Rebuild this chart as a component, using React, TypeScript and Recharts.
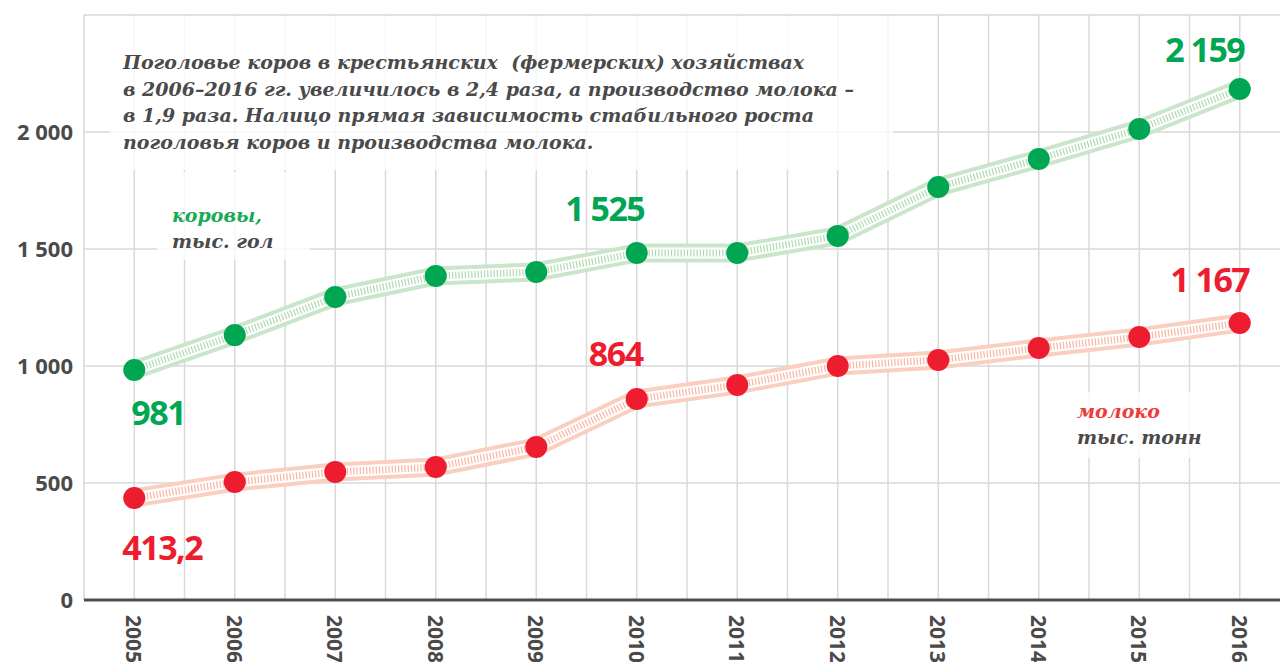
import React from 'react';
import { LineChart, Line, XAxis, YAxis, CartesianGrid, LabelList } from 'recharts';

const years = [2005, 2006, 2007, 2008, 2009, 2010, 2011, 2012, 2013, 2014, 2015, 2016];
const cows = [983, 1132, 1295, 1385, 1402, 1483, 1483, 1556, 1765, 1885, 2013, 2184];
const milk = [436, 504, 547, 568, 654, 859, 919, 1000, 1026, 1077, 1124, 1184];
const cowLabels = ['981', '', '', '', '', '1 525', '', '', '', '', '', '2 159'];
const milkLabels = ['413,2', '', '', '', '', '864', '', '', '', '', '', '1 167'];
const yTicks = [0, 500, 1000, 1500, 2000, 2500];
const yTickLabels = ['0', '500', '1 000', '1 500', '2 000', ''];
const xGridTicks = [2004.5, 2005, 2005.5, 2006, 2006.5, 2007, 2007.5, 2008, 2008.5, 2009, 2009.5, 2010, 2010.5, 2011, 2011.5, 2012, 2012.5, 2013, 2013.5, 2014, 2014.5, 2015, 2015.5, 2016, 2016.5];
const noteLines = [
  'Поголовье коров в крестьянских  (фермерских) хозяйствах',
  'в 2006–2016 гг. увеличилось в 2,4 раза, а производство молока –',
  'в 1,9 раза. Налицо прямая зависимость стабильного роста',
  'поголовья коров и производства молока.',
];
const cowsLegend = ['коровы,', 'тыс. гол'];
const milkLegend = ['молоко', 'тыс. тонн'];

const data = years.map((year, i) => ({
  year,
  cows: cows[i],
  milk: milk[i],
  cowLabel: cowLabels[i],
  milkLabel: milkLabels[i],
}));

const GREEN = '#00a651';
const RED = '#ed1c2e';
const GREEN_BAND = '#c9e6ca';
const GREEN_HATCH = '#b3dbb6';
const RED_BAND = '#fbcfc0';
const RED_HATCH = '#f8b9a6';
const GRAY = '#4a4a4a';

const cowOffsets: Record<number, { dx: number; dy: number }> = {
  0: { dx: 24, dy: 55 },
  5: { dx: -32, dy: -32 },
  11: { dx: -35, dy: -27 },
};
const milkOffsets: Record<number, { dx: number; dy: number }> = {
  0: { dx: 28, dy: 62 },
  5: { dx: -21, dy: -33 },
  11: { dx: -30, dy: -31 },
};

const makeLabel = (offsets: Record<number, { dx: number; dy: number }>, color: string) => (props: any) => {
  const { x, y, value, index } = props;
  if (!value) return null;
  const o = offsets[index] || { dx: 0, dy: -20 };
  return (
    <text
      x={Number(x) + o.dx}
      y={Number(y) + o.dy}
      textAnchor="middle"
      fill={color}
      fontFamily="'Open Sans', sans-serif"
      fontWeight={700}
      fontSize={34}
      letterSpacing={-1.5}
    >
      {value}
    </text>
  );
};

const XTick = (props: any) => {
  const { x, y, payload } = props;
  if (!Number.isInteger(payload.value)) return null;
  return (
    <text
      x={0}
      y={0}
      transform={`translate(${x - 8}, ${y + 7}) rotate(90)`}
      textAnchor="start"
      fill={GRAY}
      fontFamily="'Open Sans', sans-serif"
      fontWeight={700}
      fontSize={21}
    >
      {payload.value}
    </text>
  );
};

const YTick = (props: any) => {
  const { y, payload, index } = props;
  const label = yTickLabels[yTicks.indexOf(payload.value)] ?? '';
  if (!label) return null;
  return (
    <text
      x={73}
      y={y}
      dy={8}
      textAnchor="end"
      fill={GRAY}
      fontFamily="'Open Sans', sans-serif"
      fontWeight={700}
      fontSize={22}
      key={index}
    >
      {label}
    </text>
  );
};

const serif = "'DejaVu Serif', serif";

export default function App() {
  return (
    <div style={{ position: 'fixed', left: 0, top: 0, width: 1280, height: 662, overflow: 'hidden', background: '#fff' }}>
      <LineChart width={1300} height={700} data={data} margin={{ top: 15, left: 0, right: 10, bottom: 0 }}>
        <CartesianGrid stroke="#d9d9d9" strokeWidth={1.5} />
        <XAxis
          dataKey="year"
          type="number"
          domain={[2004.5, 2016.5]}
          ticks={xGridTicks}
          interval={0}
          height={100}
          tick={<XTick />}
          tickLine={false}
          axisLine={{ stroke: '#4d4d4d', strokeWidth: 3 }}
        />
        <YAxis
          width={84}
          domain={[0, 2500]}
          ticks={yTicks}
          interval={0}
          tick={<YTick />}
          tickLine={false}
          axisLine={false}
        />
        <Line dataKey="cows" type="linear" stroke={GREEN_BAND} strokeWidth={19} dot={false} isAnimationActive={false} />
        <Line dataKey="cows" type="linear" stroke="#ffffff" strokeWidth={11} dot={false} isAnimationActive={false} />
        <Line dataKey="cows" type="linear" stroke={GREEN_HATCH} strokeWidth={7} strokeDasharray="1.3 1.9" dot={false} isAnimationActive={false} />
        <Line dataKey="milk" type="linear" stroke={RED_BAND} strokeWidth={19} dot={false} isAnimationActive={false} />
        <Line dataKey="milk" type="linear" stroke="#ffffff" strokeWidth={11} dot={false} isAnimationActive={false} />
        <Line dataKey="milk" type="linear" stroke={RED_HATCH} strokeWidth={7} strokeDasharray="1.3 1.9" dot={false} isAnimationActive={false} />
        <Line
          dataKey="cows"
          type="linear"
          stroke="none"
          dot={{ r: 11, fill: GREEN, stroke: 'none' }}
          isAnimationActive={false}
        >
          <LabelList dataKey="cowLabel" content={makeLabel(cowOffsets, GREEN)} />
        </Line>
        <Line
          dataKey="milk"
          type="linear"
          stroke="none"
          dot={{ r: 11, fill: RED, stroke: 'none' }}
          isAnimationActive={false}
        >
          <LabelList dataKey="milkLabel" content={makeLabel(milkOffsets, RED)} />
        </Line>
      </LineChart>

      <div
        style={{
          position: 'absolute', left: 110, top: 16, width: 783, height: 154,
          background: 'rgba(255,255,255,0.8)',
        }}
      />
      <div
        style={{
          position: 'absolute', left: 123, top: 49, fontFamily: serif, fontStyle: 'italic', fontWeight: 700,
          fontSize: 19, lineHeight: '26.5px', color: GRAY, whiteSpace: 'pre',
        }}
      >
        {noteLines.map((l, i) => (
          <div key={i}>{l}</div>
        ))}
      </div>

      <div style={{ position: 'absolute', left: 157, top: 172, width: 153, height: 88, background: 'rgba(255,255,255,0.8)' }} />
      <div
        style={{
          position: 'absolute', left: 172, top: 202, fontFamily: serif, fontStyle: 'italic', fontWeight: 700,
          fontSize: 19, lineHeight: '26px', whiteSpace: 'pre',
        }}
      >
        <div style={{ color: '#1aaa55' }}>{cowsLegend[0]}</div>
        <div style={{ color: GRAY }}>{cowsLegend[1]}</div>
      </div>

      <div style={{ position: 'absolute', left: 1068, top: 392, width: 150, height: 66, background: 'rgba(255,255,255,0.8)' }} />
      <div
        style={{
          position: 'absolute', left: 1077, top: 398, fontFamily: serif, fontStyle: 'italic', fontWeight: 700,
          fontSize: 19, lineHeight: '26px', whiteSpace: 'pre',
        }}
      >
        <div style={{ color: '#ee3b3b' }}>{milkLegend[0]}</div>
        <div style={{ color: GRAY }}>{milkLegend[1]}</div>
      </div>
    </div>
  );
}
